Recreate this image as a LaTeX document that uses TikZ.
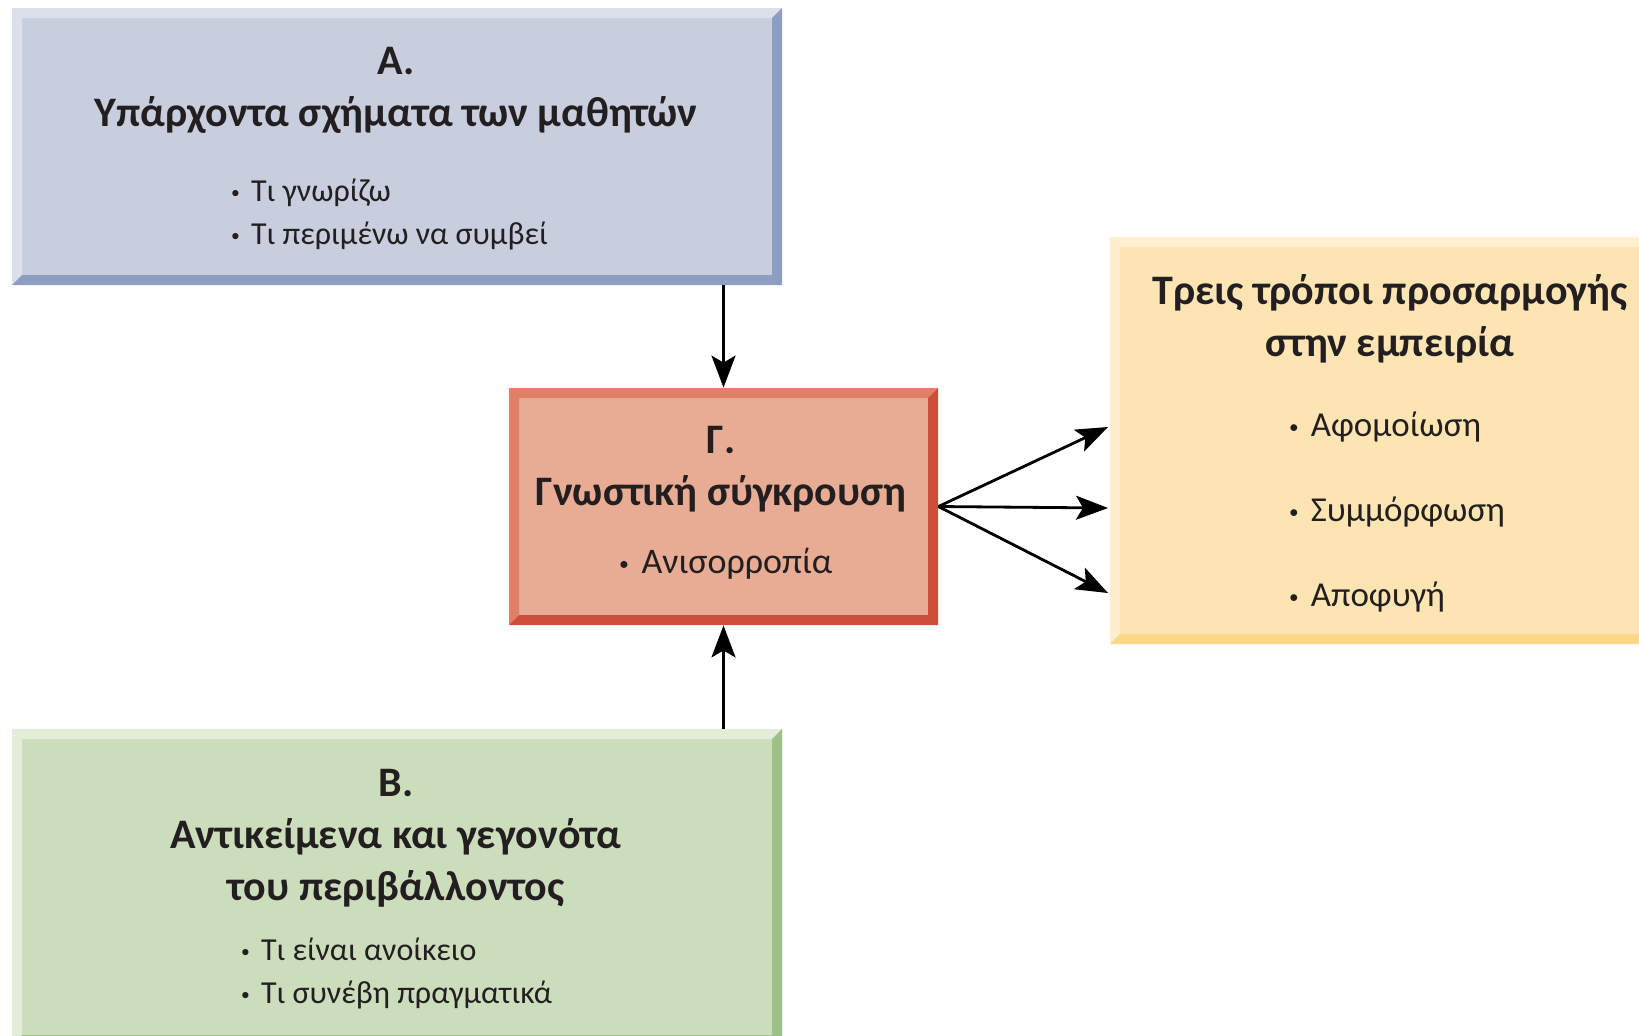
\documentclass[tikz,border=0pt]{standalone}
\usepackage{fontspec}
\usepackage{graphicx}
\setmainfont{Carlito}
\usetikzlibrary{arrows.meta,positioning}
\definecolor{inktext}{HTML}{231F20}
\definecolor{schemafill}{HTML}{C8CEDE}
\definecolor{schemalight}{HTML}{DCE0EA}
\definecolor{schemadark}{HTML}{8C9FC2}
\definecolor{conflictfill}{HTML}{E8AC94}
\definecolor{conflictlight}{HTML}{E08068}
\definecolor{conflictdark}{HTML}{CF4D3B}
\definecolor{adaptfill}{HTML}{FDE5B3}
\definecolor{adaptlight}{HTML}{FEF0CF}
\definecolor{adaptdark}{HTML}{FDD788}
\definecolor{worldfill}{HTML}{CCDDBC}
\definecolor{worldlight}{HTML}{E4ECDA}
\definecolor{worlddark}{HTML}{9CC28A}
\newcommand{\dotitem}{\raisebox{0.18ex}{\scalebox{0.55}{•}}\hspace{0.35em}}

\tikzset{
  panel/.style n args={3}{draw=none, fill=#1, inner sep=0pt,
    path picture={
      \fill[#2] (path picture bounding box.south west) -- (path picture bounding box.north west)
        -- (path picture bounding box.north east) -- ([shift={(-5pt,-5pt)}]path picture bounding box.north east)
        -- ([shift={(5pt,-5pt)}]path picture bounding box.north west) -- ([shift={(5pt,5pt)}]path picture bounding box.south west) -- cycle;
      \fill[#3] (path picture bounding box.south west) -- (path picture bounding box.south east)
        -- (path picture bounding box.north east) -- ([shift={(-5pt,-5pt)}]path picture bounding box.north east)
        -- ([shift={(-5pt,5pt)}]path picture bounding box.south east) -- ([shift={(5pt,5pt)}]path picture bounding box.south west) -- cycle;
    }},
  head/.style={text=inktext, align=center, font=\fontsize{21}{26}\selectfont\bfseries},
  items/.style={text=inktext, align=left, anchor=west, font=\fontsize{16}{21.5}\selectfont},
  flow/.style={-{Stealth[length=16pt, width=12pt, inset=3.5pt]}, line width=1.4pt, black},
}

\begin{document}
\begin{tikzpicture}[x=0.5pt, y=-0.5pt]
  \clip (0,0) rectangle (1639,1035);

  % the four boxes
  \node[panel={schemafill}{schemalight}{schemadark}, minimum width=385pt, minimum height=138.5pt] (schemas) at (397,146.5) {};
  \node[panel={conflictfill}{conflictlight}{conflictdark}, minimum width=214.5pt, minimum height=118.5pt] (conflict) at (723.5,506.5) {};
  \node[panel={adaptfill}{adaptlight}{adaptdark}, minimum width=275pt, minimum height=203.5pt] (adapt) at (1385,440.5) {};
  \node[panel={worldfill}{worldlight}{worlddark}, minimum width=385pt, minimum height=158pt] (world) at (397,887) {};

  % texts
  \node[head] (schemasTitle) at (396,90) {A.\\Υπάρχοντα σχήματα των μαθητών};
  \node[items] (schemasList) at (224,214) {\dotitem Τι γνωρίζω\\\dotitem Τι περιμένω να συμβεί};

  \node[head] (conflictTitle) at (721,469) {Γ.\\Γνωστική σύγκρουση};
  \node[items, font=\fontsize{18}{22}\selectfont] (conflictList) at (612,564) {\dotitem Ανισορροπία};

  \node[head] (adaptTitle) at (1390,319) {Τρεις τρόποι προσαρμογής\\στην εμπειρία};
  \node[items, font=\fontsize{17.5}{42.5}\selectfont] (adaptList) at (1282,512) {\dotitem Αφομοίωση\\\dotitem Συμμόρφωση\\\dotitem Αποφυγή};

  \node[head] (worldTitle) at (396,838) {B.\\Αντικείμενα και γεγονότα\\του περιβάλλοντος};
  \node[items] (worldList) at (234,973) {\dotitem Τι είναι ανοίκειο\\\dotitem Τι συνέβη πραγματικά};

  % connectors
  \coordinate (toAssim) at (1108,427);
  \coordinate (toAccom) at (1108,508);
  \coordinate (toAvoid) at (1108,593);
  \draw[flow] (conflict.north |- schemas.south) -- (conflict.north);
  \draw[flow] (conflict.south |- world.north) -- (conflict.south);
  \draw[flow] (conflict.east) -- (toAssim);
  \draw[flow] (conflict.east) -- (toAccom);
  \draw[flow] (conflict.east) -- (toAvoid);
\end{tikzpicture}
\end{document}
